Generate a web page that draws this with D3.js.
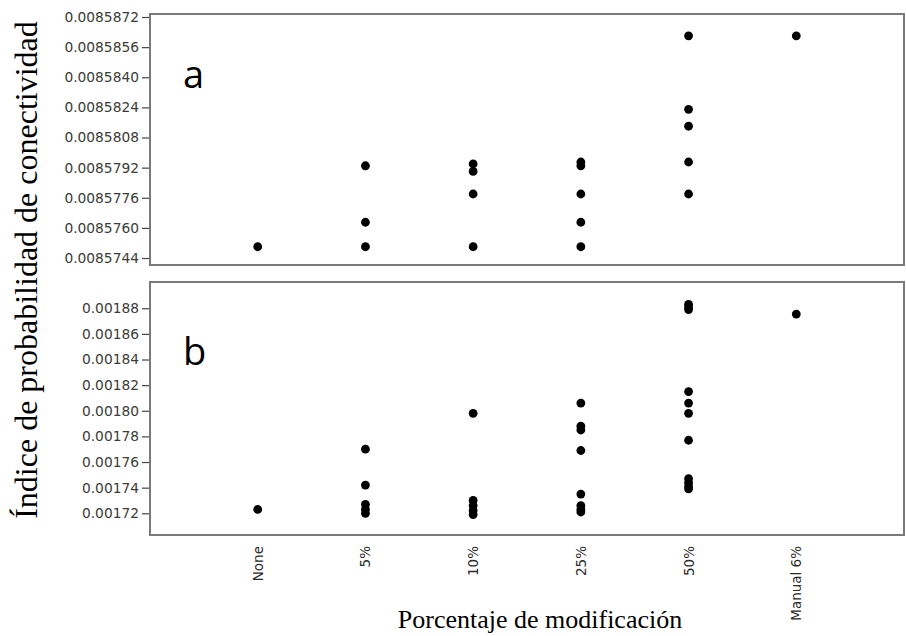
<!DOCTYPE html>
<html>
<head>
<meta charset="utf-8">
<script src="https://cdn.jsdelivr.net/npm/d3@7"></script>
<style>
  body { margin: 0; background: #fff; }
  svg { display: block; }
</style>
</head>
<body>
<div class="chart"></div>
<script>
const categories = ["None", "5%", "10%", "25%", "50%", "Manual 6%"];

// tick labels of both panels
const ticksA = [0.0085744, 0.0085760, 0.0085776, 0.0085792, 0.0085808, 0.0085824, 0.0085840, 0.0085856, 0.0085872];
const ticksB = [0.00172, 0.00174, 0.00176, 0.00178, 0.00180, 0.00182, 0.00184, 0.00186, 0.00188];

// panel a: [category, value]
const pointsA = [
    ["None", 0.0085750],
    ["5%", 0.0085793], ["5%", 0.0085763], ["5%", 0.0085750],
    ["10%", 0.0085794], ["10%", 0.0085790], ["10%", 0.0085778], ["10%", 0.0085750],
    ["25%", 0.0085795], ["25%", 0.0085793], ["25%", 0.0085778], ["25%", 0.0085763], ["25%", 0.0085750],
    ["50%", 0.0085862], ["50%", 0.0085823], ["50%", 0.0085814], ["50%", 0.0085795], ["50%", 0.0085778],
    ["Manual 6%", 0.0085862]
];

// panel b: [category, value]
const pointsB = [
    ["None", 0.001723],
    ["5%", 0.001770], ["5%", 0.001742], ["5%", 0.001727], ["5%", 0.001723], ["5%", 0.001720],
    ["10%", 0.001798], ["10%", 0.001730], ["10%", 0.001726], ["10%", 0.001722], ["10%", 0.001719],
    ["25%", 0.001806], ["25%", 0.001788], ["25%", 0.001785], ["25%", 0.001769], ["25%", 0.001735],
    ["25%", 0.001726], ["25%", 0.001723], ["25%", 0.001721],
    ["50%", 0.001883], ["50%", 0.001881], ["50%", 0.001879], ["50%", 0.001815], ["50%", 0.001806],
    ["50%", 0.001798], ["50%", 0.001777], ["50%", 0.001747], ["50%", 0.001744], ["50%", 0.001741], ["50%", 0.001739],
    ["Manual 6%", 0.0018755]
];

const width = 906,
    height = 636;
const left = 150,
    right = 904;

const svg = d3.select(".chart").append("svg")
    .attr("width", width)
    .attr("height", height);

const x = d3.scalePoint()
    .domain(categories)
    .range([left, right])
    .padding(1);

function panel(points, ticks, domain, top, bottom, fmt, letter, letterY) {
    const y = d3.scaleLinear().domain(domain).range([bottom, top]);
    const g = svg.append("g");

    // y axis ticks + labels
    const axis = d3.axisLeft(y)
        .tickValues(ticks)
        .tickFormat(d3.format(fmt))
        .tickSize(8)
        .tickPadding(3);
    const ax = g.append("g")
        .attr("transform", `translate(${left},0)`)
        .call(axis);
    ax.select(".domain").remove();
    ax.selectAll(".tick line").attr("stroke", "#444").attr("stroke-width", 1.2);
    ax.selectAll(".tick text")
        .style("font-family", "DejaVu Sans, sans-serif")
        .style("font-size", "13.8px")
        .attr("fill", "#3b3d36");

    // frame
    g.append("rect")
        .attr("x", left)
        .attr("y", top)
        .attr("width", right - left)
        .attr("height", bottom - top)
        .attr("fill", "none")
        .attr("stroke", "#7a7a7a")
        .attr("stroke-width", 2);

    g.append("text")
        .attr("x", 183)
        .attr("y", letterY)
        .style("font-family", "Open Sans, Lato, sans-serif")
        .style("font-size", "38px")
        .text(letter);

    g.selectAll("circle")
        .data(points)
        .join("circle")
        .attr("cx", d => x(d[0]))
        .attr("cy", d => y(d[1]))
        .attr("r", 4.4)
        .attr("fill", "#000");

    return y;
}

panel(pointsA, ticksA, [0.00857403, 0.00858736], 14, 265, ".7f", "a", 88);
panel(pointsB, ticksB, [0.00170306, 0.0019005], 282, 535, ".5f", "b", 365);

// category labels, vertical
svg.append("g")
    .selectAll("text")
    .data(categories)
    .join("text")
    .attr("transform", d => `translate(${x(d) + 5},546) rotate(-90)`)
    .attr("text-anchor", "end")
    .style("font-family", "DejaVu Sans, sans-serif")
    .style("font-size", "13.5px")
    .attr("fill", "#2a2a2a")
    .text(d => d);

// axis titles
svg.append("text")
    .attr("transform", "translate(37,270) rotate(-90)")
    .attr("text-anchor", "middle")
    .style("font-family", "Liberation Serif, Times New Roman, serif")
    .style("font-size", "32px")
    .attr("fill", "#000")
    .text("Índice de probabilidad de conectividad");

svg.append("text")
    .attr("x", 540)
    .attr("y", 628)
    .attr("text-anchor", "middle")
    .style("font-family", "Liberation Serif, Times New Roman, serif")
    .style("font-size", "26px")
    .attr("fill", "#000")
    .text("Porcentaje de modificación");
</script>
</body>
</html>
